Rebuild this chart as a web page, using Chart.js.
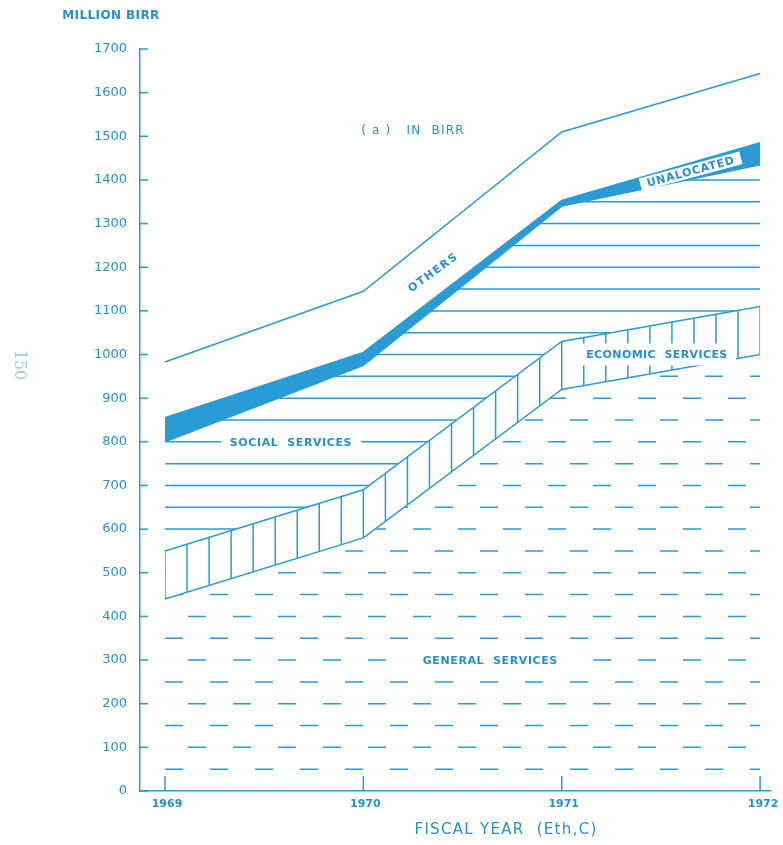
<!DOCTYPE html>
<html>
<head>
<meta charset="utf-8">
<script src="https://cdn.jsdelivr.net/npm/chart.js@4.4.1/dist/chart.umd.min.js"></script>
<style>
  html, body { margin: 0; padding: 0; background: #fff; }
  #wrap { width: 783px; height: 845px; position: relative; }
</style>
</head>
<body>
<div id="wrap"><canvas id="budgetChart"></canvas></div>
<script>
// fiscal years (Eth. C) and expenditure in million birr
const years = [1969, 1970, 1971, 1972];
const generalServices = [440, 580, 920, 1000];
const economicServices = [110, 110, 110, 110];
const socialServices = [250, 285, 310, 325];
const unallocated = [55, 30, 13, 50];
const others = [128, 140, 157, 159];
const yTickValues = [0, 100, 200, 300, 400, 500, 600, 700, 800, 900, 1000, 1100, 1200, 1300, 1400, 1500, 1600, 1700];

const BLUE = "#2a9bd5";
const INK = "#2790cb";
const FONT = "'DejaVu Sans', sans-serif";

Chart.defaults.font.family = FONT;
Chart.defaults.color = INK;

const toPoints = (arr) => arr.map((v, i) => ({ x: years[i], y: v }));

// outline of one stacked band, top edge then bottom edge back
function bandPath(ctx, chart, idx) {
  const top = chart.getDatasetMeta(idx).data;
  const below = idx > 0 ? chart.getDatasetMeta(idx - 1).data : null;
  const y0 = chart.scales.y.getPixelForValue(0);
  ctx.beginPath();
  top.forEach((p, i) => (i ? ctx.lineTo(p.x, p.y) : ctx.moveTo(p.x, p.y)));
  for (let i = top.length - 1; i >= 0; i--) {
    ctx.lineTo(top[i].x, below ? below[i].y : y0);
  }
  ctx.closePath();
}

const hatchPlugin = {
  id: "hatch",
  afterDatasetsDraw(chart) {
    const { ctx, chartArea: area, scales } = chart;
    const x = scales.x, y = scales.y;
    ctx.save();
    ctx.strokeStyle = BLUE;
    ctx.lineWidth = 1.5;

    // general services: staggered dashes
    ctx.save();
    bandPath(ctx, chart, 0);
    ctx.clip();
    ctx.setLineDash([18, 27]);
    for (let v = 50; v <= 1700; v += 50) {
      const py = y.getPixelForValue(v);
      const odd = (v / 50) % 2 === 1;
      const startX = x.getPixelForValue(1969) - (odd ? 0 : 22);
      ctx.beginPath();
      ctx.moveTo(startX, py);
      ctx.lineTo(area.right, py);
      ctx.stroke();
    }
    ctx.restore();

    // economic services: vertical hatch
    ctx.save();
    bandPath(ctx, chart, 1);
    ctx.clip();
    for (let k = 0; k <= 27; k++) {
      const px = x.getPixelForValue(1969 + k / 9);
      ctx.beginPath();
      ctx.moveTo(px, area.top);
      ctx.lineTo(px, area.bottom);
      ctx.stroke();
    }
    ctx.restore();

    // social services: horizontal hatch
    ctx.save();
    bandPath(ctx, chart, 2);
    ctx.clip();
    for (let v = 0; v <= 1700; v += 50) {
      const py = y.getPixelForValue(v);
      ctx.beginPath();
      ctx.moveTo(area.left, py);
      ctx.lineTo(area.right, py);
      ctx.stroke();
    }
    ctx.restore();

    ctx.restore();
  },
};

function boxedText(ctx, text, cx, cy, opts) {
  ctx.save();
  ctx.translate(cx, cy);
  ctx.rotate(((opts.angle || 0) * Math.PI) / 180);
  if (opts.boxW) {
    ctx.fillStyle = "#fff";
    ctx.fillRect(-opts.boxW / 2, -opts.boxH / 2, opts.boxW, opts.boxH);
  }
  ctx.font = opts.font;
  ctx.letterSpacing = (opts.spacing || 0) + "px";
  ctx.fillStyle = opts.color || INK;
  ctx.textAlign = "center";
  ctx.textBaseline = "middle";
  ctx.fillText(text, 0, 1);
  ctx.restore();
}

const decorPlugin = {
  id: "decor",
  afterDraw(chart) {
    const { ctx, chartArea: area, scales } = chart;
    const x = scales.x, y = scales.y;

    // tick marks point into the plot
    ctx.save();
    ctx.strokeStyle = BLUE;
    ctx.lineWidth = 1.5;
    yTickValues.forEach((v) => {
      const py = y.getPixelForValue(v);
      ctx.beginPath();
      ctx.moveTo(area.left, py);
      ctx.lineTo(area.left + 8, py);
      ctx.stroke();
    });
    years.forEach((yr) => {
      const px = x.getPixelForValue(yr);
      ctx.beginPath();
      ctx.moveTo(px, area.bottom);
      ctx.lineTo(px, area.bottom - 15);
      ctx.stroke();
    });
    ctx.restore();

    // year labels under the ticks
    years.forEach((yr, i) => {
      const shift = i === years.length - 1 ? 3 : 2;
      boxedText(ctx, String(yr), x.getPixelForValue(yr) + shift, area.bottom + 12,
        { font: "bold 11px " + FONT });
    });

    // band labels
    boxedText(ctx, "SOCIAL  SERVICES", x.getPixelForValue(1969.635), y.getPixelForValue(800),
      { font: "bold 11px " + FONT, spacing: 0.6, boxW: 140, boxH: 14 });
    boxedText(ctx, "ECONOMIC  SERVICES", x.getPixelForValue(1971.48), y.getPixelForValue(1000),
      { font: "bold 11px " + FONT, spacing: 0.4, boxW: 158, boxH: 22 });
    boxedText(ctx, "GENERAL  SERVICES", x.getPixelForValue(1970.64), y.getPixelForValue(300),
      { font: "bold 11px " + FONT, spacing: 0.6, boxW: 164, boxH: 14 });
    boxedText(ctx, "UNALOCATED", x.getPixelForValue(1971.65), y.getPixelForValue(1420),
      { font: "bold 11px " + FONT, spacing: 0.8, angle: -15, boxW: 104, boxH: 13 });
    boxedText(ctx, "OTHERS", x.getPixelForValue(1970.35), y.getPixelForValue(1189),
      { font: "bold 11px " + FONT, spacing: 1.5, angle: -36 });
    boxedText(ctx, "( a )   IN  BIRR", x.getPixelForValue(1970.25), y.getPixelForValue(1514),
      { font: "12px " + FONT, spacing: 1.2 });

    // axis titles and page number
    boxedText(ctx, "MILLION BIRR", 111, 15, { font: "bold 12px " + FONT, spacing: 0.4 });
    boxedText(ctx, "FISCAL YEAR  (Eth,C)", 506, 829, { font: "15px " + FONT, spacing: 1.3 });
    boxedText(ctx, "150", 20, 365, { font: "16px 'DejaVu Serif', serif", angle: 90, color: "#9ccbe3" });
  },
};

const lineStyle = {
  borderColor: BLUE,
  borderWidth: 1.5,
  pointRadius: 0,
  tension: 0,
};

new Chart(document.getElementById("budgetChart"), {
  type: "line",
  data: {
    datasets: [
      { label: "General services", data: toPoints(generalServices), fill: false, ...lineStyle },
      { label: "Economic services", data: toPoints(economicServices), fill: false, ...lineStyle },
      { label: "Social services", data: toPoints(socialServices), fill: false, ...lineStyle },
      { label: "Unallocated", data: toPoints(unallocated), fill: "-1", backgroundColor: BLUE, ...lineStyle },
      { label: "Others", data: toPoints(others), fill: false, ...lineStyle },
    ],
  },
  options: {
    responsive: true,
    maintainAspectRatio: false,
    animation: false,
    devicePixelRatio: 1,
    layout: { padding: { left: 90, right: 13, top: 49, bottom: 34 } },
    plugins: {
      legend: { display: false },
      tooltip: { enabled: false },
    },
    scales: {
      x: {
        type: "linear",
        min: 1968.874,
        max: 1972.05,
        afterBuildTicks: (scale) => {
          scale.ticks = years.map((v) => ({ value: v }));
        },
        afterFit: (scale) => {
          scale.height = 20;
        },
        grid: { display: false },
        border: { display: true, color: BLUE, width: 1.5 },
        ticks: { display: false },
      },
      y: {
        stacked: true,
        min: 0,
        max: 1700,
        afterBuildTicks: (scale) => {
          scale.ticks = yTickValues.map((v) => ({ value: v }));
        },
        afterFit: (scale) => {
          scale.width = 50;
        },
        grid: { display: false },
        border: { display: true, color: BLUE, width: 1.5 },
        ticks: {
          padding: 5,
          color: INK,
          font: { size: 13 },
          callback: (v) => String(v),
        },
      },
    },
  },
  plugins: [hatchPlugin, decorPlugin],
});
</script>
</body>
</html>
